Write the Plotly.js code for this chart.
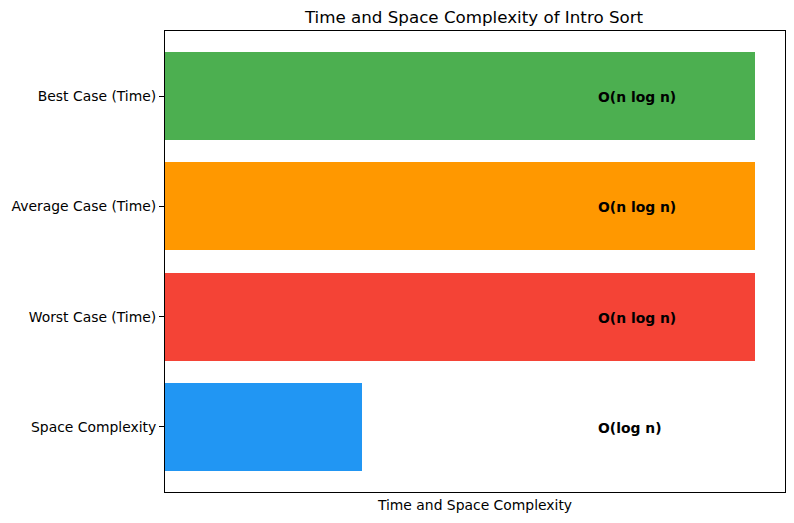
<!DOCTYPE html>
<html>
<head>
<meta charset="utf-8">
<script src="https://cdn.plot.ly/plotly-3.0.1.min.js"></script>
<style>html,body{margin:0;padding:0;background:#fff;}#chart{width:794px;height:523px;}</style>
</head>
<body>
<div id="chart"></div>
<script>
const categories = ["Best Case (Time)", "Average Case (Time)", "Worst Case (Time)", "Space Complexity"];
const values = [3, 3, 3, 1];
const labels = ["O(n log n)", "O(n log n)", "O(n log n)", "O(log n)"];
const colors = ["#4CAF50", "#FF9800", "#F44336", "#2196F3"];
const labelX = 2.19;

const trace = {
  type: "bar",
  orientation: "h",
  x: values,
  y: categories,
  width: 0.8,
  marker: {color: colors, line: {width: 0}},
  hoverinfo: "none"
};

const annotations = categories.map((c, i) => ({
  x: labelX, y: c, xref: "x", yref: "y", yshift: -1,
  text: "<b>" + labels[i] + "</b>",
  showarrow: false, xanchor: "left", yanchor: "middle",
  font: {family: "DejaVu Sans", size: 13.9, color: "#000"}
}));

const layout = {
  width: 794, height: 523,
  margin: {l: 165, r: 9, t: 31, b: 31, pad: 0},
  paper_bgcolor: "#fff", plot_bgcolor: "#fff",
  font: {family: "DejaVu Sans", size: 13.9, color: "#000"},
  title: {text: "Time and Space Complexity of Intro Sort", font: {size: 16.7, color: "#000"}, x: 0.597, xanchor: "center", y: 0.967, yanchor: "middle"},
  xaxis: {
    range: [0, 3.15], showticklabels: false, ticks: "", showgrid: false, zeroline: false,
    showline: true, linecolor: "#000", linewidth: 1, mirror: true,
    title: {text: "Time and Space Complexity", font: {size: 13.9}, standoff: 8}
  },
  yaxis: {
    type: "category", range: [3.59, -0.59], showgrid: false, zeroline: false,
    showline: true, linecolor: "#000", linewidth: 1, mirror: true,
    ticks: "outside", ticklen: 5, tickwidth: 1, tickcolor: "#000",
    tickfont: {size: 13.9}, ticklabelstandoff: 0
  },
  annotations: annotations,
  showlegend: false,
  bargap: 0
};

Plotly.newPlot("chart", [trace], layout, {displayModeBar: false, staticPlot: true});
</script>
</body>
</html>
